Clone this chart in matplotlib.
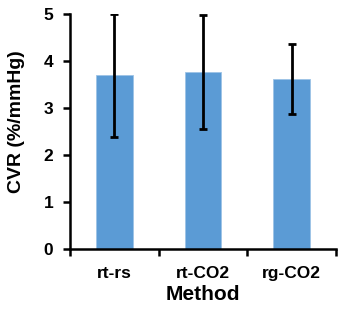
import matplotlib
matplotlib.use("Agg")
import matplotlib.pyplot as plt
import numpy as np

categories = ["rt-rs", "rt-CO2", "rg-CO2"]
values = [3.70, 3.77, 3.62]
errors = [1.31, 1.21, 0.745]

plt.rcParams['font.family'] = ['Liberation Sans', 'DejaVu Sans']
plt.rcParams['font.weight'] = 'bold'

fig = plt.figure(figsize=(3.46, 3.16), dpi=100)
ax = fig.add_axes([70/346, 1-249/316, 266/346, 235/316])

x = np.arange(len(categories))
ax.bar(x, values, width=0.41, color='#5B9BD5', edgecolor='#9DC3E6', linewidth=0.6, zorder=2)
ax.errorbar(x, values, yerr=errors, fmt='none', ecolor='black', elinewidth=2.0,
            capsize=2.6, capthick=2.0, zorder=3)

ax.set_xlim(-0.5, 2.5)
ax.set_ylim(0, 5)
ax.set_yticks([0, 1, 2, 3, 4, 5])
ax.set_xticks([-0.5, 0.5, 1.5, 2.5])
ax.set_xticklabels([])
ax.set_xticks(x, minor=True)
ax.set_xticklabels(categories, minor=True, fontsize=12.5, fontweight='bold')
ax.tick_params(axis='x', which='minor', length=0, pad=12)
ax.tick_params(axis='x', which='major', length=5, width=1.8, direction='out')
ax.tick_params(axis='y', length=5, width=1.8, direction='out', labelsize=12.5, pad=7)
for lab in ax.get_yticklabels():
    lab.set_fontweight('bold')

for s in ['top', 'right']:
    ax.spines[s].set_visible(False)
for s in ['left', 'bottom']:
    ax.spines[s].set_linewidth(1.8)

ax.set_xlabel("Method", fontsize=15, fontweight='bold', labelpad=3)
ax.set_ylabel("CVR (%/mmHg)", fontsize=14, fontweight='bold')
ax.yaxis.set_label_coords((25 - 70) / 266, (249 - 121.5) / 235)

fig.savefig("out.png", dpi=100)
